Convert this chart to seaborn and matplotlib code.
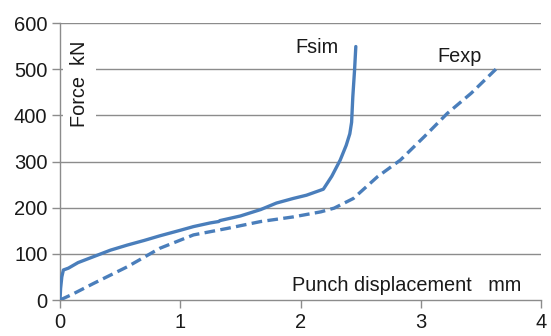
import numpy as np
import pandas as pd
import matplotlib
matplotlib.use('Agg')
import matplotlib.pyplot as plt
import seaborn as sns

# Punch displacement (mm) and force (kN)
sim_disp = [0.0, 0.005, 0.015, 0.028, 0.07, 0.15, 0.28, 0.42, 0.56, 0.7, 0.83, 1.0, 1.11, 1.25, 1.32, 1.33, 1.5, 1.67, 1.8, 1.94, 2.05, 2.19, 2.26, 2.33, 2.38, 2.41, 2.425, 2.435, 2.45, 2.46]
sim_force = [0, 25, 50, 65, 69, 81, 94, 108, 119, 129, 139, 151, 159, 167, 170, 172, 182, 196, 210, 220, 227, 240, 268, 303, 335, 360, 385, 440, 500, 549]
exp_disp = [0.0, 0.1, 0.28, 0.56, 0.83, 1.11, 1.39, 1.67, 1.94, 2.17, 2.28, 2.44, 2.64, 2.83, 3.03, 3.22, 3.42, 3.625]
exp_force = [0, 12, 36, 72, 112, 141, 155, 170, 180, 191, 199, 220, 267, 303, 354, 404, 448, 500]

x_ticks = [0, 1, 2, 3, 4]
y_ticks = [0, 100, 200, 300, 400, 500, 600]

sim = pd.DataFrame({'disp': sim_disp, 'force': sim_force})
exp = pd.DataFrame({'disp': exp_disp, 'force': exp_force})

sns.set_style('white')
plt.rcParams['font.family'] = ['Liberation Sans', 'DejaVu Sans']

fig = plt.figure(figsize=(5.51, 3.36), dpi=100)
ax = fig.add_axes([60/551, 36/336, 481/551, 277/336])

blue = '#4A7EBB'
grid = '#8C8C8C'
for yv in y_ticks[1:]:
    ax.axhline(yv, color=grid, lw=1.0, zorder=1)

sns.lineplot(data=sim, x='disp', y='force', ax=ax, color=blue, lw=2.4,
             sort=False, estimator=None, zorder=3)
sns.lineplot(data=exp, x='disp', y='force', ax=ax, color=blue, lw=2.4,
             sort=False, estimator=None, zorder=3, linestyle=(0, (3.2, 1.6)))

ax.set_xlim(0, 4)
ax.set_ylim(0, 600)
ax.set_xticks(x_ticks)
ax.set_yticks(y_ticks)
ax.set_xlabel('')
ax.set_ylabel('')
for s in ['top', 'right']:
    ax.spines[s].set_visible(False)
for s in ['left', 'bottom']:
    ax.spines[s].set_color(grid)
    ax.spines[s].set_linewidth(1.0)
ax.tick_params(axis='both', which='both', direction='out', length=6, width=1.0,
               color=grid, labelsize=14.5, labelcolor='#1a1a1a', pad=3, bottom=True, left=True)

ax.text(0.16, 468, 'Force  kN', rotation=90, ha='center', va='center', fontsize=14.3,
        color='#1a1a1a', zorder=4,
        bbox=dict(facecolor='white', edgecolor='none', pad=5))
ax.text(2.88, 32, 'Punch displacement   mm', ha='center', va='center', fontsize=14.3,
        color='#1a1a1a', zorder=4,
        bbox=dict(facecolor='white', edgecolor='none', pad=2))
ax.text(2.14, 546, 'Fsim', ha='center', va='center', fontsize=14.3, color='#1a1a1a', zorder=4)
ax.text(3.32, 527, 'Fexp', ha='center', va='center', fontsize=14.3, color='#1a1a1a', zorder=4)

fig.savefig('out.png', dpi=100)
